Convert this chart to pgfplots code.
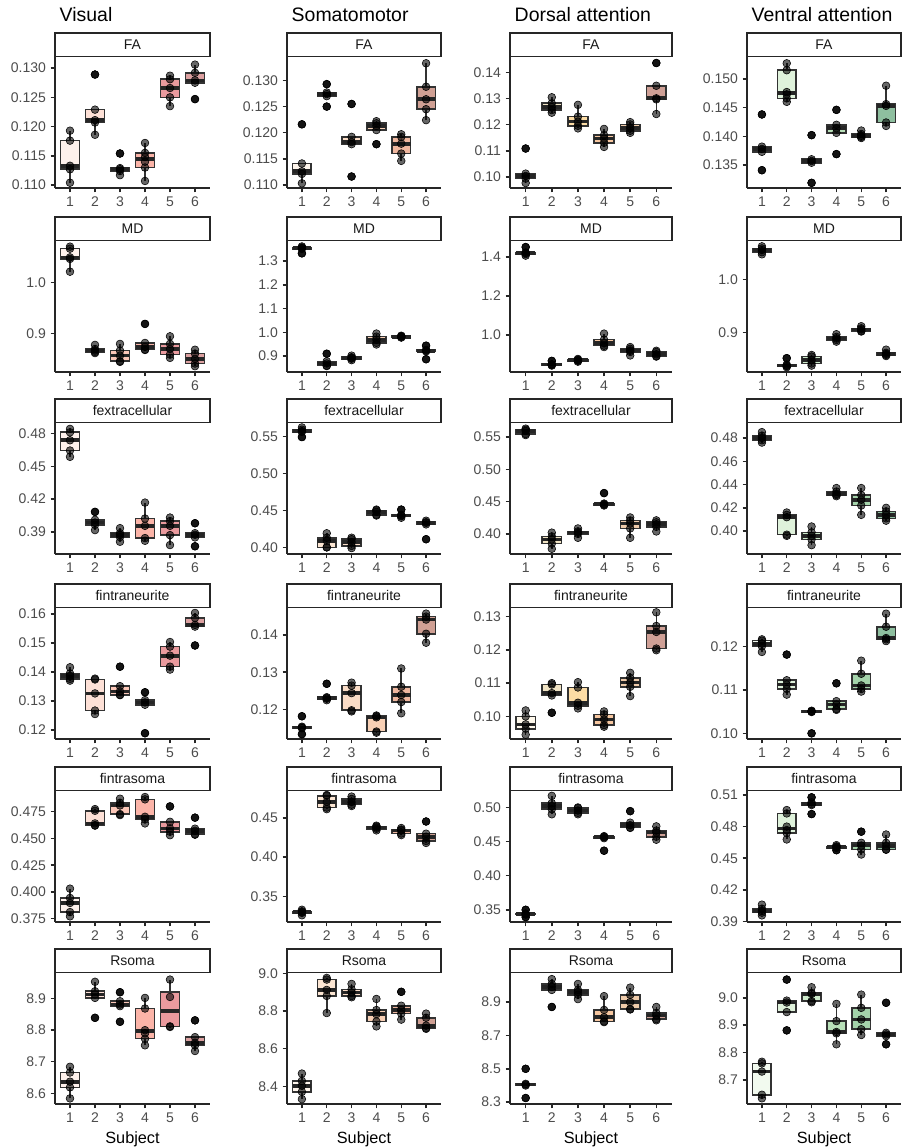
\documentclass[border=0pt]{standalone}
\usepackage{pgfplots}
\pgfplotsset{compat=1.18}
\usepackage{fontspec}
\setmainfont{Liberation Sans}

\definecolor{v1}{HTML}{FEF1EC}\definecolor{v2}{HTML}{FDE0D6}\definecolor{v3}{HTML}{FCC7B8}
\definecolor{v4}{HTML}{FBB4A8}\definecolor{v5}{HTML}{EA9A9E}\definecolor{v6}{HTML}{DCA0A0}
\definecolor{s1}{HTML}{FEF5EC}\definecolor{s2}{HTML}{FCE6D3}\definecolor{s3}{HTML}{FADCC6}
\definecolor{s4}{HTML}{F8D0B5}\definecolor{s5}{HTML}{F0B79F}\definecolor{s6}{HTML}{D0A094}
\definecolor{d1}{HTML}{FFF9EC}\definecolor{d2}{HTML}{F0E3C3}\definecolor{d3}{HTML}{FCDCA5}
\definecolor{d4}{HTML}{F7C7A0}\definecolor{d5}{HTML}{EFCBAA}\definecolor{d6}{HTML}{CFA096}
\definecolor{a1}{HTML}{F2FAEF}\definecolor{a2}{HTML}{DFF2DB}\definecolor{a3}{HTML}{CDEBCB}
\definecolor{a4}{HTML}{B8E0B8}\definecolor{a5}{HTML}{A4D3AA}\definecolor{a6}{HTML}{8EBF9F}

\pgfplotsset{
  base/.style={scale only axis, height=98.25pt, anchor=north west,
    xmin=0.4, xmax=6.6, xtick={1,2,3,4,5,6},
    axis x line*=bottom, axis y line*=left,
    axis line style={line width=1.1pt, color=black!85},
    every tick/.style={line width=1.1pt, black!85},
    tick align=outside, major tick length=3.3pt,
    tick label style={font=\fontsize{10.5}{12}\selectfont, text=black!70},
    /pgf/number format/assume math mode=true,
    scaled y ticks=false,
    every axis title/.style={at={(0.5,1)}, anchor=south, draw=black!85, line width=1.1pt,
      fill=white, minimum height=17.6pt, inner sep=0pt,
      font=\fontsize{10.5}{12}\selectfont, text=black!90},
    xlabel style={font=\fontsize{12.2}{14}\selectfont, text=black},
  },
  prec/.style={yticklabel style={/pgf/number format/.cd, fixed, fixed zerofill, precision=#1}},
  c1/.style={base, width=116.25pt, title style={minimum width=116.25pt}},
  c2/.style={base, width=115.5pt, title style={minimum width=115.5pt}},
  c3/.style={base, width=121.5pt, title style={minimum width=121.5pt}},
  c4/.style={base, width=115.5pt, title style={minimum width=115.5pt}},
  wk/.style={draw=black!80, line width=1.2pt, mark=none, forget plot},
  bxs/.style={draw=black!80, line width=1.2pt, line cap=rect, line join=miter, mark=none, forget plot},
  med/.style={draw=black!85, line width=2.8pt, mark=none, forget plot},
  pt/.style={only marks, mark=*, mark size=2.9pt,
    mark options={draw=none, fill=black, fill opacity=0.6}, forget plot},
  ol/.style={only marks, mark=*, mark size=2.9pt,
    mark options={draw=none, fill=black!80}, forget plot},
}
% box: position, colour, lower whisker, q1, median, q3, upper whisker
\newcommand\bx[7]{%
  \addplot[wk] table[row sep=\\, x expr=#1, y=v]{v\\#3\\#4\\};
  \addplot[wk] table[row sep=\\, x expr=#1, y=v]{v\\#6\\#7\\};
  \addplot[bxs, fill=#2] table[row sep=\\, x expr=#1+\thisrow{d}, y=v]{d v\\-0.375 #4\\0.375 #4\\0.375 #6\\-0.375 #6\\-0.375 #4\\};
  \addplot[med] table[row sep=\\, x expr=#1+\thisrow{d}, y=v]{d v\\-0.375 #5\\0.375 #5\\};
}
\newcommand\pts[2]{\addplot[pt] table[row sep=\\, x expr=#1, y=v]{v\\#2};}
\newcommand\outl[2]{\addplot[ol] table[row sep=\\, x expr=#1, y=v]{v\\#2};}

\begin{document}
\begin{tikzpicture}
\useasboundingbox (0,0) rectangle (675.75pt,-860.25pt);
\node[anchor=base west, font=\fontsize{14.6}{17}\selectfont] at (41.25pt,-15.75pt) {Visual};
\node[anchor=base west, font=\fontsize{14.6}{17}\selectfont] at (215.25pt,-15.75pt) {Somatomotor};
\node[anchor=base west, font=\fontsize{14.6}{17}\selectfont] at (382.5pt,-15.75pt) {Dorsal attention};
\node[anchor=base west, font=\fontsize{14.6}{17}\selectfont] at (560.25pt,-15.75pt) {Ventral attention};

%================ Visual ================
\begin{axis}[c1, at={(41.25pt,-42.75pt)}, title={FA}, ymin=0.1095, ymax=0.1319,
  ytick={0.110,0.115,0.120,0.125,0.130}, prec=3]
\bx{1}{v1}{0.1104}{0.1127}{0.1133}{0.1176}{0.1193}
\bx{2}{v2}{0.1186}{0.1207}{0.1211}{0.1229}{0.1229}
\bx{3}{v3}{0.1117}{0.1124}{0.1127}{0.1129}{0.1129}
\bx{4}{v4}{0.1107}{0.1130}{0.1144}{0.1155}{0.1172}
\bx{5}{v5}{0.1235}{0.1250}{0.1266}{0.1281}{0.1287}
\bx{6}{v6}{0.1275}{0.1275}{0.1279}{0.1292}{0.1306}
\outl{2}{0.1289\\}\outl{3}{0.1154\\}\outl{6}{0.1247\\}
\pts{1}{0.1104\\0.1127\\0.1133\\0.1176\\0.1193\\}
\pts{2}{0.1186\\0.1207\\0.1211\\0.1229\\0.1289\\}
\pts{3}{0.1117\\0.1124\\0.1127\\0.1129\\0.1154\\}
\pts{4}{0.1107\\0.1130\\0.1140\\0.1148\\0.1155\\0.1172\\}
\pts{5}{0.1235\\0.1250\\0.1266\\0.1281\\0.1287\\}
\pts{6}{0.1247\\0.1275\\0.1279\\0.1292\\0.1306\\}
\end{axis}
\begin{axis}[c1, at={(41.25pt,-180.75pt)}, title={MD}, ymin=0.825, ymax=1.081,
  ytick={0.9,1.0}, prec=1]
\bx{1}{v1}{1.021}{1.046}{1.049}{1.066}{1.070}
\bx{2}{v2}{0.862}{0.864}{0.867}{0.870}{0.878}
\bx{3}{v3}{0.8448}{0.8461}{0.8571}{0.8669}{0.8799}
\bx{4}{v4}{0.868}{0.8688}{0.874}{0.8818}{0.8818}
\bx{5}{v5}{0.8526}{0.859}{0.870}{0.880}{0.8948}
\bx{6}{v6}{0.8364}{0.8416}{0.8506}{0.861}{0.8685}
\outl{4}{0.919\\}
\pts{1}{1.021\\1.046\\1.049\\1.066\\1.070\\}
\pts{2}{0.862\\0.864\\0.867\\0.870\\0.878\\}
\pts{3}{0.8448\\0.8461\\0.8571\\0.8669\\0.8799\\}
\pts{4}{0.868\\0.8688\\0.874\\0.8818\\0.919\\}
\pts{5}{0.8526\\0.859\\0.870\\0.880\\0.8948\\}
\pts{6}{0.8364\\0.8416\\0.8506\\0.861\\0.8685\\}
\end{axis}
\begin{axis}[c1, at={(41.25pt,-317.25pt)}, title={fextracellular}, ymin=0.3697, ymax=0.4897,
  ytick={0.39,0.42,0.45,0.48}, prec=2]
\bx{1}{v1}{0.4587}{0.4645}{0.4739}{0.4812}{0.4843}
\bx{2}{v2}{0.3916}{0.3964}{0.3985}{0.4010}{0.4010}
\bx{3}{v3}{0.3809}{0.3852}{0.3873}{0.3888}{0.3934}
\bx{4}{v4}{0.3818}{0.3843}{0.3955}{0.4022}{0.4168}
\bx{5}{v5}{0.3779}{0.3870}{0.3955}{0.3999}{0.4031}
\bx{6}{v6}{0.3849}{0.3849}{0.3873}{0.3888}{0.3888}
\outl{2}{0.4083\\}\outl{6}{0.3768\\0.3979\\}
\pts{1}{0.4587\\0.4645\\0.4739\\0.4812\\0.4843\\}
\pts{2}{0.3916\\0.3964\\0.3985\\0.4010\\0.4083\\}
\pts{3}{0.3809\\0.3852\\0.3873\\0.3888\\0.3934\\}
\pts{4}{0.3818\\0.3843\\0.3955\\0.4022\\0.4168\\}
\pts{5}{0.3779\\0.3870\\0.3955\\0.3999\\0.4031\\}
\pts{6}{0.3768\\0.3849\\0.3873\\0.3888\\0.3979\\}
\end{axis}
\begin{axis}[c1, at={(41.25pt,-456pt)}, title={fintraneurite}, ymin=0.1169, ymax=0.1620,
  ytick={0.12,0.13,0.14,0.15,0.16}, prec=2]
\bx{1}{v1}{0.1370}{0.1376}{0.1387}{0.1395}{0.1416}
\bx{2}{v2}{0.1255}{0.1267}{0.1326}{0.1374}{0.1377}
\bx{3}{v3}{0.1320}{0.1321}{0.1333}{0.1351}{0.1351}
\bx{4}{v4}{0.1287}{0.1287}{0.1295}{0.1303}{0.1303}
\bx{5}{v5}{0.1408}{0.1418}{0.1456}{0.1487}{0.1503}
\bx{6}{v6}{0.1556}{0.1556}{0.1562}{0.1586}{0.1603}
\outl{3}{0.1418\\}\outl{4}{0.1189\\0.1330\\}\outl{6}{0.1491\\}
\pts{1}{0.1370\\0.1376\\0.1387\\0.1395\\0.1416\\}
\pts{2}{0.1255\\0.1267\\0.1326\\0.1374\\0.1377\\}
\pts{3}{0.1320\\0.1321\\0.1333\\0.1351\\0.1418\\}
\pts{4}{0.1189\\0.1287\\0.1295\\0.1303\\0.1330\\}
\pts{5}{0.1408\\0.1418\\0.1456\\0.1487\\0.1503\\}
\pts{6}{0.1491\\0.1556\\0.1562\\0.1586\\0.1603\\}
\end{axis}
\begin{axis}[c1, at={(41.25pt,-593.25pt)}, title={fintrasoma}, ymin=0.3719, ymax=0.4944,
  ytick={0.375,0.400,0.425,0.450,0.475}, prec=3]
\bx{1}{v1}{0.3772}{0.3812}{0.3897}{0.3944}{0.4031}
\bx{2}{v2}{0.4620}{0.4625}{0.4641}{0.4759}{0.4775}
\bx{3}{v3}{0.4719}{0.4728}{0.4809}{0.4834}{0.4872}
\bx{4}{v4}{0.4641}{0.4678}{0.4703}{0.4866}{0.4888}
\bx{5}{v5}{0.4531}{0.4563}{0.4594}{0.4656}{0.4656}
\bx{6}{v6}{0.4535}{0.4540}{0.4572}{0.4592}{0.4592}
\outl{5}{0.4800\\}\outl{6}{0.4695\\}
\pts{1}{0.3772\\0.3812\\0.3897\\0.3944\\0.4031\\}
\pts{2}{0.4620\\0.4625\\0.4641\\0.4759\\0.4775\\}
\pts{3}{0.4719\\0.4728\\0.4809\\0.4834\\0.4872\\}
\pts{4}{0.4641\\0.4678\\0.4703\\0.4866\\0.4888\\}
\pts{5}{0.4531\\0.4563\\0.4594\\0.4656\\0.4800\\}
\pts{6}{0.4535\\0.4540\\0.4572\\0.4592\\0.4695\\}
\end{axis}
\begin{axis}[c1, at={(41.25pt,-729.75pt)}, title={Rsoma}, ymin=8.5663, ymax=8.9808,
  ytick={8.6,8.7,8.8,8.9}, prec=1, xlabel={Subject}]
\bx{1}{v1}{8.584}{8.619}{8.637}{8.666}{8.684}
\bx{2}{v2}{8.902}{8.902}{8.913}{8.923}{8.953}
\bx{3}{v3}{8.876}{8.876}{8.881}{8.8916}{8.8916}
\bx{4}{v4}{8.752}{8.773}{8.797}{8.8685}{8.902}
\bx{5}{v5}{8.810}{8.811}{8.860}{8.920}{8.960}
\bx{6}{v6}{8.734}{8.752}{8.760}{8.778}{8.778}
\outl{2}{8.839\\}\outl{3}{8.8265\\8.920\\}\outl{6}{8.831\\}
\pts{1}{8.584\\8.619\\8.637\\8.666\\8.684\\}
\pts{2}{8.839\\8.902\\8.913\\8.923\\8.953\\}
\pts{3}{8.8265\\8.876\\8.881\\8.8916\\8.920\\}
\pts{4}{8.752\\8.773\\8.790\\8.800\\8.8685\\8.902\\}
\pts{5}{8.810\\8.812\\8.905\\8.960\\}
\pts{6}{8.734\\8.752\\8.760\\8.778\\8.831\\}
\end{axis}

%================ Somatomotor ================
\begin{axis}[c2, at={(215.25pt,-42.75pt)}, title={FA}, ymin=0.1094, ymax=0.1345,
  ytick={0.110,0.115,0.120,0.125,0.130}, prec=3]
\bx{1}{s1}{0.1103}{0.1121}{0.1126}{0.1141}{0.1141}
\bx{2}{s2}{0.1270}{0.1270}{0.1274}{0.1277}{0.1277}
\bx{3}{s3}{0.1178}{0.1178}{0.1182}{0.1192}{0.1192}
\bx{4}{s4}{0.1205}{0.1205}{0.1213}{0.1218}{0.1222}
\bx{5}{s5}{0.1146}{0.1160}{0.1179}{0.1192}{0.1197}
\bx{6}{s6}{0.1224}{0.1245}{0.1264}{0.1288}{0.1333}
\outl{1}{0.1216\\}\outl{2}{0.1250\\0.1293\\}\outl{3}{0.1116\\0.1255\\}\outl{4}{0.1178\\}
\pts{1}{0.1103\\0.1121\\0.1126\\0.1141\\0.1216\\}
\pts{2}{0.1250\\0.1270\\0.1274\\0.1277\\0.1293\\}
\pts{3}{0.1116\\0.1178\\0.1182\\0.1192\\0.1255\\}
\pts{4}{0.1178\\0.1205\\0.1213\\0.1218\\0.1222\\}
\pts{5}{0.1146\\0.1160\\0.1179\\0.1192\\0.1197\\}
\pts{6}{0.1224\\0.1245\\0.1264\\0.1288\\0.1333\\}
\end{axis}
\begin{axis}[c2, at={(215.25pt,-180.75pt)}, title={MD}, ymin=0.833, ymax=1.385,
  ytick={0.9,1.0,1.1,1.2,1.3}, prec=1]
\bx{1}{s1}{1.352}{1.352}{1.355}{1.358}{1.362}
\bx{2}{s2}{0.858}{0.860}{0.869}{0.878}{0.878}
\bx{3}{s3}{0.883}{0.889}{0.892}{0.895}{0.902}
\bx{4}{s4}{0.949}{0.956}{0.969}{0.982}{0.995}
\bx{5}{s5}{0.978}{0.981}{0.982}{0.984}{0.986}
\bx{6}{s6}{0.920}{0.920}{0.923}{0.926}{0.926}
\outl{1}{1.333\\}\outl{2}{0.910\\}\outl{6}{0.887\\0.944\\}
\pts{1}{1.333\\1.352\\1.355\\1.358\\1.362\\}
\pts{2}{0.858\\0.860\\0.869\\0.878\\0.910\\}
\pts{3}{0.883\\0.889\\0.892\\0.895\\0.902\\}
\pts{4}{0.949\\0.956\\0.969\\0.982\\0.995\\}
\pts{5}{0.978\\0.981\\0.982\\0.984\\0.986\\}
\pts{6}{0.887\\0.920\\0.923\\0.926\\0.944\\}
\end{axis}
\begin{axis}[c2, at={(215.25pt,-317.25pt)}, title={fextracellular}, ymin=0.391, ymax=0.568,
  ytick={0.40,0.45,0.50,0.55}, prec=2]
\bx{1}{s1}{0.556}{0.556}{0.557}{0.559}{0.562}
\bx{2}{s2}{0.400}{0.400}{0.409}{0.413}{0.419}
\bx{3}{s3}{0.399}{0.402}{0.407}{0.411}{0.413}
\bx{4}{s4}{0.443}{0.444}{0.448}{0.450}{0.451}
\bx{5}{s5}{0.440}{0.442}{0.443}{0.444}{0.444}
\bx{6}{s6}{0.431}{0.431}{0.433}{0.434}{0.436}
\outl{1}{0.549\\}\outl{5}{0.451\\}\outl{6}{0.411\\}
\pts{1}{0.549\\0.556\\0.557\\0.559\\0.562\\}
\pts{2}{0.400\\0.400\\0.409\\0.413\\0.419\\}
\pts{3}{0.399\\0.402\\0.407\\0.411\\0.413\\}
\pts{4}{0.443\\0.444\\0.448\\0.450\\0.451\\}
\pts{5}{0.440\\0.442\\0.443\\0.444\\0.451\\}
\pts{6}{0.411\\0.431\\0.433\\0.434\\0.436\\}
\end{axis}
\begin{axis}[c2, at={(215.25pt,-456pt)}, title={fintraneurite}, ymin=0.1121, ymax=0.1472,
  ytick={0.12,0.13,0.14}, prec=2]
\bx{1}{s1}{0.1150}{0.1150}{0.1152}{0.1154}{0.1154}
\bx{2}{s2}{0.1225}{0.1229}{0.1231}{0.1233}{0.1233}
\bx{3}{s3}{0.1195}{0.1198}{0.1244}{0.1264}{0.1272}
\bx{4}{s4}{0.1138}{0.1141}{0.1179}{0.1182}{0.1184}
\bx{5}{s5}{0.1190}{0.1220}{0.1239}{0.1261}{0.1310}
\bx{6}{s6}{0.1379}{0.1403}{0.1441}{0.1449}{0.1457}
\outl{1}{0.1134\\0.1182\\}\outl{2}{0.1269\\}
\pts{1}{0.1134\\0.1150\\0.1152\\0.1154\\0.1182\\}
\pts{2}{0.1225\\0.1229\\0.1231\\0.1233\\0.1269\\}
\pts{3}{0.1195\\0.1198\\0.1244\\0.1264\\0.1272\\}
\pts{4}{0.1138\\0.1141\\0.1179\\0.1182\\0.1184\\}
\pts{5}{0.1190\\0.1220\\0.1239\\0.1261\\0.1310\\}
\pts{6}{0.1379\\0.1403\\0.1441\\0.1449\\0.1457\\}
\end{axis}
\begin{axis}[c2, at={(215.25pt,-593.25pt)}, title={fintrasoma}, ymin=0.3174, ymax=0.4841,
  ytick={0.35,0.40,0.45}, prec=2]
\bx{1}{s1}{0.326}{0.329}{0.330}{0.331}{0.333}
\bx{2}{s2}{0.461}{0.463}{0.470}{0.478}{0.479}
\bx{3}{s3}{0.465}{0.4667}{0.470}{0.474}{0.477}
\bx{4}{s4}{0.434}{0.436}{0.4376}{0.439}{0.440}
\bx{5}{s5}{0.428}{0.430}{0.434}{0.435}{0.437}
\bx{6}{s6}{0.418}{0.4205}{0.426}{0.4298}{0.4298}
\outl{6}{0.4453\\}
\pts{1}{0.326\\0.329\\0.330\\0.331\\0.333\\}
\pts{2}{0.461\\0.463\\0.470\\0.478\\0.479\\}
\pts{3}{0.465\\0.4667\\0.470\\0.474\\0.477\\}
\pts{4}{0.434\\0.436\\0.4376\\0.439\\0.440\\}
\pts{5}{0.428\\0.430\\0.434\\0.435\\0.437\\}
\pts{6}{0.418\\0.4205\\0.426\\0.4298\\0.4453\\}
\end{axis}
\begin{axis}[c2, at={(215.25pt,-729.75pt)}, title={Rsoma}, ymin=8.306, ymax=9.003,
  ytick={8.4,8.6,8.8,9.0}, prec=1, xlabel={Subject}]
\bx{1}{s1}{8.332}{8.371}{8.403}{8.429}{8.468}
\bx{2}{s2}{8.790}{8.881}{8.913}{8.968}{8.977}
\bx{3}{s3}{8.874}{8.881}{8.900}{8.916}{8.945}
\bx{4}{s4}{8.719}{8.745}{8.784}{8.806}{8.865}
\bx{5}{s5}{8.755}{8.787}{8.806}{8.829}{8.829}
\bx{6}{s6}{8.706}{8.710}{8.723}{8.765}{8.787}
\outl{5}{8.903\\}
\pts{1}{8.332\\8.371\\8.403\\8.429\\8.468\\}
\pts{2}{8.790\\8.881\\8.913\\8.968\\8.977\\}
\pts{3}{8.874\\8.881\\8.900\\8.916\\8.945\\}
\pts{4}{8.719\\8.745\\8.784\\8.806\\8.865\\}
\pts{5}{8.755\\8.787\\8.806\\8.829\\8.903\\}
\pts{6}{8.706\\8.710\\8.723\\8.765\\8.787\\}
\end{axis}

%================ Dorsal attention ================
\begin{axis}[c3, at={(382.5pt,-42.75pt)}, title={FA}, ymin=0.0958, ymax=0.1459,
  ytick={0.10,0.11,0.12,0.13,0.14}, prec=2]
\bx{1}{d1}{0.0977}{0.0994}{0.1004}{0.1013}{0.1013}
\bx{2}{d2}{0.1246}{0.1256}{0.1267}{0.1282}{0.1305}
\bx{3}{d3}{0.1186}{0.1196}{0.1212}{0.1231}{0.1276}
\bx{4}{d4}{0.1115}{0.1131}{0.1147}{0.1160}{0.1184}
\bx{5}{d5}{0.1169}{0.1177}{0.1188}{0.1201}{0.1210}
\bx{6}{d6}{0.1241}{0.1297}{0.1301}{0.1349}{0.1349}
\outl{1}{0.1109\\}\outl{6}{0.1436\\}
\pts{1}{0.0977\\0.0994\\0.1004\\0.1013\\0.1109\\}
\pts{2}{0.1246\\0.1256\\0.1267\\0.1282\\0.1305\\}
\pts{3}{0.1186\\0.1196\\0.1212\\0.1231\\0.1276\\}
\pts{4}{0.1115\\0.1131\\0.1147\\0.1160\\0.1184\\}
\pts{5}{0.1169\\0.1177\\0.1188\\0.1201\\0.1210\\}
\pts{6}{0.1241\\0.1297\\0.1301\\0.1349\\0.1436\\}
\end{axis}
\begin{axis}[c3, at={(382.5pt,-180.75pt)}, title={MD}, ymin=0.809, ymax=1.481,
  ytick={1.0,1.2,1.4}, prec=1]
\bx{1}{d1}{1.406}{1.414}{1.419}{1.422}{1.422}
\bx{2}{d2}{0.842}{0.845}{0.847}{0.849}{0.849}
\bx{3}{d3}{0.862}{0.866}{0.869}{0.872}{0.876}
\bx{4}{d4}{0.937}{0.944}{0.956}{0.975}{1.006}
\bx{5}{d5}{0.894}{0.912}{0.919}{0.928}{0.937}
\bx{6}{d6}{0.888}{0.891}{0.900}{0.912}{0.918}
\outl{1}{1.450\\}\outl{2}{0.866\\}
\pts{1}{1.406\\1.414\\1.419\\1.422\\1.450\\}
\pts{2}{0.842\\0.845\\0.847\\0.849\\0.866\\}
\pts{3}{0.862\\0.866\\0.869\\0.872\\0.876\\}
\pts{4}{0.937\\0.944\\0.956\\0.975\\1.006\\}
\pts{5}{0.894\\0.912\\0.919\\0.928\\0.937\\}
\pts{6}{0.888\\0.891\\0.900\\0.912\\0.918\\}
\end{axis}
\begin{axis}[c3, at={(382.5pt,-317.25pt)}, title={fextracellular}, ymin=0.3689, ymax=0.5717,
  ytick={0.40,0.45,0.50,0.55}, prec=2]
\bx{1}{d1}{0.553}{0.5547}{0.5594}{0.5613}{0.563}
\bx{2}{d2}{0.377}{0.385}{0.3915}{0.3962}{0.402}
\bx{3}{d3}{0.394}{0.400}{0.402}{0.404}{0.4085}
\bx{4}{d4}{0.444}{0.445}{0.4462}{0.447}{0.447}
\bx{5}{d5}{0.394}{0.4085}{0.416}{0.4208}{0.4255}
\bx{6}{d6}{0.4038}{0.411}{0.415}{0.418}{0.421}
\outl{4}{0.4632\\}
\pts{1}{0.553\\0.5547\\0.5594\\0.5613\\0.563\\}
\pts{2}{0.377\\0.385\\0.3915\\0.3962\\0.402\\}
\pts{3}{0.394\\0.400\\0.402\\0.404\\0.4085\\}
\pts{4}{0.444\\0.445\\0.4462\\0.447\\0.4632\\}
\pts{5}{0.394\\0.4085\\0.416\\0.4208\\0.4255\\}
\pts{6}{0.4038\\0.411\\0.415\\0.418\\0.421\\}
\end{axis}
\begin{axis}[c3, at={(382.5pt,-456pt)}, title={fintraneurite}, ymin=0.0932, ymax=0.1326,
  ytick={0.10,0.11,0.12,0.13}, prec=2]
\bx{1}{d1}{0.0945}{0.0963}{0.0976}{0.1000}{0.1018}
\bx{2}{d2}{0.1063}{0.1063}{0.1070}{0.1096}{0.1100}
\bx{3}{d3}{0.1024}{0.1032}{0.1041}{0.1087}{0.1103}
\bx{4}{d4}{0.0969}{0.0974}{0.0991}{0.1006}{0.1015}
\bx{5}{d5}{0.1061}{0.1089}{0.1102}{0.1116}{0.1131}
\bx{6}{d6}{0.1199}{0.1204}{0.1254}{0.1272}{0.1313}
\outl{2}{0.1011\\}
\pts{1}{0.0945\\0.0963\\0.0976\\0.1000\\0.1018\\}
\pts{2}{0.1011\\0.1063\\0.1070\\0.1096\\0.1100\\}
\pts{3}{0.1024\\0.1032\\0.1041\\0.1087\\0.1103\\}
\pts{4}{0.0969\\0.0974\\0.0991\\0.1006\\0.1015\\}
\pts{5}{0.1061\\0.1089\\0.1102\\0.1116\\0.1131\\}
\pts{6}{0.1199\\0.1204\\0.1254\\0.1272\\0.1313\\}
\end{axis}
\begin{axis}[c3, at={(382.5pt,-593.25pt)}, title={fintrasoma}, ymin=0.3321, ymax=0.5241,
  ytick={0.35,0.40,0.45,0.50}, prec=2]
\bx{1}{d1}{0.3430}{0.3430}{0.3438}{0.3445}{0.3445}
\bx{2}{d2}{0.490}{0.4973}{0.5018}{0.5063}{0.517}
\bx{3}{d3}{0.490}{0.492}{0.4955}{0.4991}{0.500}
\bx{4}{d4}{0.4550}{0.4550}{0.4563}{0.4570}{0.458}
\bx{5}{d5}{0.4700}{0.4705}{0.474}{0.4777}{0.4777}
\bx{6}{d6}{0.4527}{0.4571}{0.4634}{0.4661}{0.4723}
\outl{1}{0.3393\\0.350\\}\outl{4}{0.4366\\}\outl{5}{0.4946\\}
\pts{1}{0.3393\\0.3430\\0.3438\\0.3445\\0.350\\}
\pts{2}{0.490\\0.4973\\0.5018\\0.5063\\0.517\\}
\pts{3}{0.490\\0.492\\0.4955\\0.4991\\0.500\\}
\pts{4}{0.4366\\0.4550\\0.4563\\0.4570\\0.458\\}
\pts{5}{0.4700\\0.4705\\0.474\\0.4777\\0.4946\\}
\pts{6}{0.4527\\0.4571\\0.4634\\0.4661\\0.4723\\}
\end{axis}
\begin{axis}[c3, at={(382.5pt,-729.75pt)}, title={Rsoma}, ymin=8.289, ymax=9.0745,
  ytick={8.3,8.5,8.7,8.9}, prec=1, xlabel={Subject}]
\bx{1}{d1}{8.400}{8.400}{8.4055}{8.410}{8.410}
\bx{2}{d2}{8.973}{8.973}{8.991}{9.009}{9.038}
\bx{3}{d3}{8.918}{8.944}{8.962}{8.973}{9.009}
\bx{4}{d4}{8.780}{8.784}{8.809}{8.853}{8.936}
\bx{5}{d5}{8.856}{8.858}{8.900}{8.944}{8.987}
\bx{6}{d6}{8.791}{8.798}{8.820}{8.835}{8.871}
\outl{1}{8.325\\8.50\\}\outl{2}{8.871\\}
\pts{1}{8.325\\8.400\\8.4055\\8.410\\8.50\\}
\pts{2}{8.871\\8.973\\8.991\\9.009\\9.038\\}
\pts{3}{8.918\\8.944\\8.962\\8.973\\9.009\\}
\pts{4}{8.780\\8.784\\8.809\\8.853\\8.936\\}
\pts{5}{8.856\\8.858\\8.900\\8.944\\8.987\\}
\pts{6}{8.791\\8.798\\8.820\\8.835\\8.871\\}
\end{axis}

%================ Ventral attention ================
\begin{axis}[c4, at={(560.25pt,-42.75pt)}, title={FA}, ymin=0.1310, ymax=0.1538,
  ytick={0.135,0.140,0.145,0.150}, prec=3]
\bx{1}{a1}{0.1373}{0.1373}{0.1378}{0.1382}{0.1382}
\bx{2}{a2}{0.1460}{0.1466}{0.1475}{0.1515}{0.1527}
\bx{3}{a3}{0.1354}{0.1354}{0.1357}{0.1360}{0.1360}
\bx{4}{a4}{0.1406}{0.1406}{0.1414}{0.1420}{0.1420}
\bx{5}{a5}{0.1397}{0.1399}{0.1401}{0.1404}{0.1410}
\bx{6}{a6}{0.1418}{0.1424}{0.1453}{0.1456}{0.1488}
\outl{1}{0.1341\\0.1438\\}\outl{3}{0.1319\\0.1402\\}\outl{4}{0.1369\\0.1446\\}
\pts{1}{0.1341\\0.1373\\0.1378\\0.1382\\0.1438\\}
\pts{2}{0.1460\\0.1466\\0.1473\\0.1477\\0.1515\\0.1527\\}
\pts{3}{0.1319\\0.1354\\0.1357\\0.1360\\0.1402\\}
\pts{4}{0.1369\\0.1406\\0.1414\\0.1420\\0.1446\\}
\pts{5}{0.1397\\0.1399\\0.1401\\0.1404\\0.1410\\}
\pts{6}{0.1418\\0.1424\\0.1453\\0.1456\\0.1488\\}
\end{axis}
\begin{axis}[c4, at={(560.25pt,-180.75pt)}, title={MD}, ymin=0.826, ymax=1.072,
  ytick={0.9,1.0}, prec=1]
\bx{1}{a1}{1.047}{1.051}{1.055}{1.058}{1.062}
\bx{2}{a2}{0.835}{0.837}{0.838}{0.840}{0.840}
\bx{3}{a3}{0.838}{0.842}{0.848}{0.855}{0.858}
\bx{4}{a4}{0.883}{0.886}{0.889}{0.892}{0.897}
\bx{5}{a5}{0.902}{0.903}{0.906}{0.908}{0.912}
\bx{6}{a6}{0.856}{0.858}{0.860}{0.862}{0.868}
\outl{2}{0.852\\}
\pts{1}{1.047\\1.051\\1.055\\1.058\\1.062\\}
\pts{2}{0.835\\0.837\\0.838\\0.840\\0.852\\}
\pts{3}{0.838\\0.842\\0.848\\0.855\\0.858\\}
\pts{4}{0.883\\0.886\\0.889\\0.892\\0.897\\}
\pts{5}{0.902\\0.903\\0.906\\0.908\\0.912\\}
\pts{6}{0.856\\0.858\\0.860\\0.862\\0.868\\}
\end{axis}
\begin{axis}[c4, at={(560.25pt,-317.25pt)}, title={fextracellular}, ymin=0.3804, ymax=0.4928,
  ytick={0.40,0.42,0.44,0.46,0.48}, prec=2]
\bx{1}{a1}{0.476}{0.478}{0.480}{0.482}{0.485}
\bx{2}{a2}{0.396}{0.397}{0.412}{0.414}{0.416}
\bx{3}{a3}{0.388}{0.393}{0.396}{0.399}{0.404}
\bx{4}{a4}{0.430}{0.431}{0.432}{0.434}{0.437}
\bx{5}{a5}{0.414}{0.422}{0.427}{0.431}{0.437}
\bx{6}{a6}{0.409}{0.411}{0.414}{0.417}{0.420}
\pts{1}{0.476\\0.478\\0.480\\0.482\\0.485\\}
\pts{2}{0.396\\0.397\\0.412\\0.414\\0.416\\}
\pts{3}{0.388\\0.393\\0.396\\0.399\\0.404\\}
\pts{4}{0.430\\0.431\\0.432\\0.434\\0.437\\}
\pts{5}{0.414\\0.422\\0.427\\0.431\\0.437\\}
\pts{6}{0.409\\0.411\\0.414\\0.417\\0.420\\}
\end{axis}
\begin{axis}[c4, at={(560.25pt,-456pt)}, title={fintraneurite}, ymin=0.0987, ymax=0.1288,
  ytick={0.10,0.11,0.12}, prec=2]
\bx{1}{a1}{0.1187}{0.1200}{0.1206}{0.1213}{0.1216}
\bx{2}{a2}{0.1089}{0.1102}{0.1112}{0.1122}{0.1122}
\bx{3}{a3}{0.1049}{0.1049}{0.1050}{0.1051}{0.1052}
\bx{4}{a4}{0.1054}{0.1056}{0.1066}{0.1074}{0.1074}
\bx{5}{a5}{0.1096}{0.1102}{0.1110}{0.1137}{0.1167}
\bx{6}{a6}{0.1212}{0.1216}{0.1219}{0.1245}{0.1275}
\outl{2}{0.1181\\}\outl{3}{0.1000\\}\outl{4}{0.1115\\}
\pts{1}{0.1187\\0.1200\\0.1206\\0.1213\\0.1216\\}
\pts{2}{0.1089\\0.1102\\0.1112\\0.1122\\0.1181\\}
\pts{3}{0.1000\\0.1049\\0.1050\\0.1051\\0.1052\\}
\pts{4}{0.1054\\0.1056\\0.1066\\0.1074\\0.1115\\}
\pts{5}{0.1096\\0.1102\\0.1110\\0.1137\\0.1167\\}
\pts{6}{0.1212\\0.1216\\0.1219\\0.1245\\0.1275\\}
\end{axis}
\begin{axis}[c4, at={(560.25pt,-593.25pt)}, title={fintrasoma}, ymin=0.3894, ymax=0.5138,
  ytick={0.39,0.42,0.45,0.48,0.51}, prec=2]
\bx{1}{a1}{0.3957}{0.3983}{0.3998}{0.4021}{0.4059}
\bx{2}{a2}{0.4678}{0.4741}{0.4783}{0.4925}{0.4957}
\bx{3}{a3}{0.5005}{0.5005}{0.5014}{0.5030}{0.5030}
\bx{4}{a4}{0.4598}{0.4598}{0.4605}{0.4612}{0.4624}
\bx{5}{a5}{0.4535}{0.4583}{0.4620}{0.4646}{0.4646}
\bx{6}{a6}{0.4580}{0.4583}{0.4614}{0.4646}{0.4725}
\outl{3}{0.4919\\0.5078\\}\outl{4}{0.4576\\}\outl{5}{0.4752\\}
\pts{1}{0.3957\\0.3983\\0.3998\\0.4021\\0.4059\\}
\pts{2}{0.4678\\0.4741\\0.4767\\0.4800\\0.4925\\0.4957\\}
\pts{3}{0.4919\\0.5005\\0.5014\\0.5030\\0.5078\\}
\pts{4}{0.4576\\0.4598\\0.4605\\0.4612\\0.4624\\}
\pts{5}{0.4535\\0.4583\\0.4620\\0.4646\\0.4752\\}
\pts{6}{0.4580\\0.4583\\0.4614\\0.4646\\0.4725\\}
\end{axis}
\begin{axis}[c4, at={(560.25pt,-729.75pt)}, title={Rsoma}, ymin=8.6112, ymax=9.0911,
  ytick={8.7,8.8,8.9,9.0}, prec=1, xlabel={Subject}]
\bx{1}{a1}{8.632}{8.645}{8.730}{8.760}{8.766}
\bx{2}{a2}{8.948}{8.948}{8.983}{8.990}{8.990}
\bx{3}{a3}{8.984}{8.988}{9.0146}{9.018}{9.039}
\bx{4}{a4}{8.830}{8.870}{8.875}{8.915}{8.978}
\bx{5}{a5}{8.864}{8.885}{8.921}{8.9635}{9.012}
\bx{6}{a6}{8.860}{8.860}{8.866}{8.872}{8.872}
\outl{2}{8.881\\9.067\\}\outl{6}{8.830\\8.982\\}
\pts{1}{8.632\\8.645\\8.730\\8.760\\8.766\\}
\pts{2}{8.881\\8.948\\8.983\\8.990\\9.067\\}
\pts{3}{8.984\\8.988\\9.0146\\9.018\\9.039\\}
\pts{4}{8.830\\8.870\\8.875\\8.915\\8.978\\}
\pts{5}{8.864\\8.885\\8.921\\8.9635\\9.012\\}
\pts{6}{8.830\\8.860\\8.866\\8.872\\8.982\\}
\end{axis}
\end{tikzpicture}
\end{document}
